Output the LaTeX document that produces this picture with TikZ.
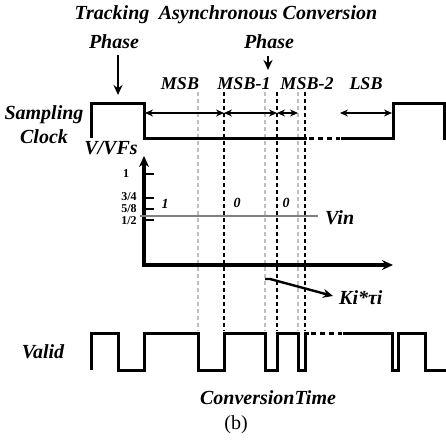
\documentclass[tikz,border=0pt]{standalone}
\usepackage{fontspec}
\setmainfont{Liberation Serif}
\usetikzlibrary{arrows.meta}
\begin{document}
\begin{tikzpicture}[x=1pt,y=-1pt,
  lbl/.style={font=\fontsize{20}{20}\selectfont\bfseries\itshape,inner sep=0pt},
  mid/.style={font=\fontsize{18}{18}\selectfont\bfseries\itshape,inner sep=0pt},
  small/.style={font=\fontsize{12}{12}\selectfont\bfseries,inner sep=0pt},
  bit/.style={font=\fontsize{14}{14}\selectfont\bfseries\itshape,inner sep=0pt},
  sig/.style={line width=3pt,line join=miter},
  sigdash/.style={line width=3pt,dash pattern=on 5pt off 4pt},
  gdash/.style={draw=black!25,line width=2.2pt,dash pattern=on 4pt off 3pt},
  kdash/.style={draw=black,line width=2.2pt,dash pattern=on 4pt off 3pt},
  dbl/.style={line width=2pt,{Stealth[length=8pt,width=7pt]}-{Stealth[length=8pt,width=7pt]}},
  down/.style={line width=2.2pt,-{Stealth[length=10pt,width=9pt]}},
  axis/.style={line width=3.2pt,-{Stealth[length=11pt,width=10pt]}}]
\useasboundingbox (0,0) rectangle (446,444);
% titles
\node[lbl] (track) at (112,15) {Tracking};
\node[lbl] (trackph) at (114,42) {Phase};
\node[lbl] (async) at (268,15) {Asynchronous Conversion};
\node[lbl] (asyncph) at (269,42) {Phase};
\coordinate (ta) at (118,95);
\coordinate (aa) at (268,70);
\draw[down] (118,55) -- (ta);
\draw[down] (268,56) -- (aa);
% bit labels
\node[mid] (msb) at (180,84) {MSB};
\node[mid] (msb1) at (244,84) {MSB-1};
\node[mid] (msb2) at (307,84) {MSB-2};
\node[mid] (lsb) at (366,84) {LSB};
% vertical dashed lines
\foreach \x in {198,265,298} \draw[gdash] (\x,92) -- (\x,331);
\foreach \x in {224,277,305} \draw[kdash] (\x,92) -- (\x,331);
% sampling clock
\node[lbl] (samp) at (44,115) {Sampling};
\node[lbl] (clk) at (44,137) {Clock};
\draw[sig] (91,138) -- (91,103) -- (144,103) -- (144,138) -- (307,138);
\draw[sigdash] (309,138) -- (340,138);
\draw[sig] (341,138) -- (393,138) -- (393,103) -- (444,103) -- (444,140);
\draw[dbl] (145,113) -- (224,113);
\draw[dbl] (224,113) -- (277,113);
\draw[dbl] (277,113) -- (298,113);
\draw[dbl] (340,113) -- (392,113);
% axes
\node[lbl] (vvfs) at (111,148) {V/VFs};
\draw[axis] (144,266) -- (144,156);
\draw[axis] (142.4,265) -- (393,265);
\foreach \y in {174,198,209,220} \draw[line width=2.8pt] (144,\y) -- (154,\y);
\node[small] (t1) at (126,174) {1};
\node[small] (t34) at (129,196.5) {3/4};
\node[small] (t58) at (129,208.5) {5/8};
\node[small] (t12) at (129,220.5) {1/2};
\draw[draw=black!50,line width=2.4pt] (140,216) -- (318,216);
\node[lbl,anchor=west] (vin) at (325,218) {Vin};
\node[bit] (b1) at (165,204) {1};
\node[bit] (b2) at (237,203) {0};
\node[bit] (b3) at (286,203) {0};
% Ki*tau arrow
\node[lbl,anchor=west] (ki) at (339,298) {Ki*τi};
\draw[line width=2.4pt,-{Stealth[length=10pt,width=9pt]}] (265,279) -- (270,279) -- (333,296);
% valid
\node[lbl] (valid) at (43,352) {Valid};
\draw[sig] (91,370) -- (91,333) -- (118,333) -- (118,370) -- (144,370) -- (144,333) -- (198,333) -- (198,370) -- (224,370) -- (224,333) -- (265,333) -- (265,370) -- (277,370) -- (277,333) -- (298,333) -- (298,370) -- (305,370) -- (305,333) -- (309,333);
\draw[sigdash] (311,333) -- (342,333);
\draw[sig] (343,333) -- (392,333) -- (392,370) -- (398,370) -- (398,333) -- (425,333) -- (425,370) -- (446,370);
\node[lbl] (conv) at (268,398) {ConversionTime};
\node[font=\fontsize{20}{20}\selectfont,inner sep=0pt] (cap) at (236,425) {(b)};
\end{tikzpicture}
\end{document}
